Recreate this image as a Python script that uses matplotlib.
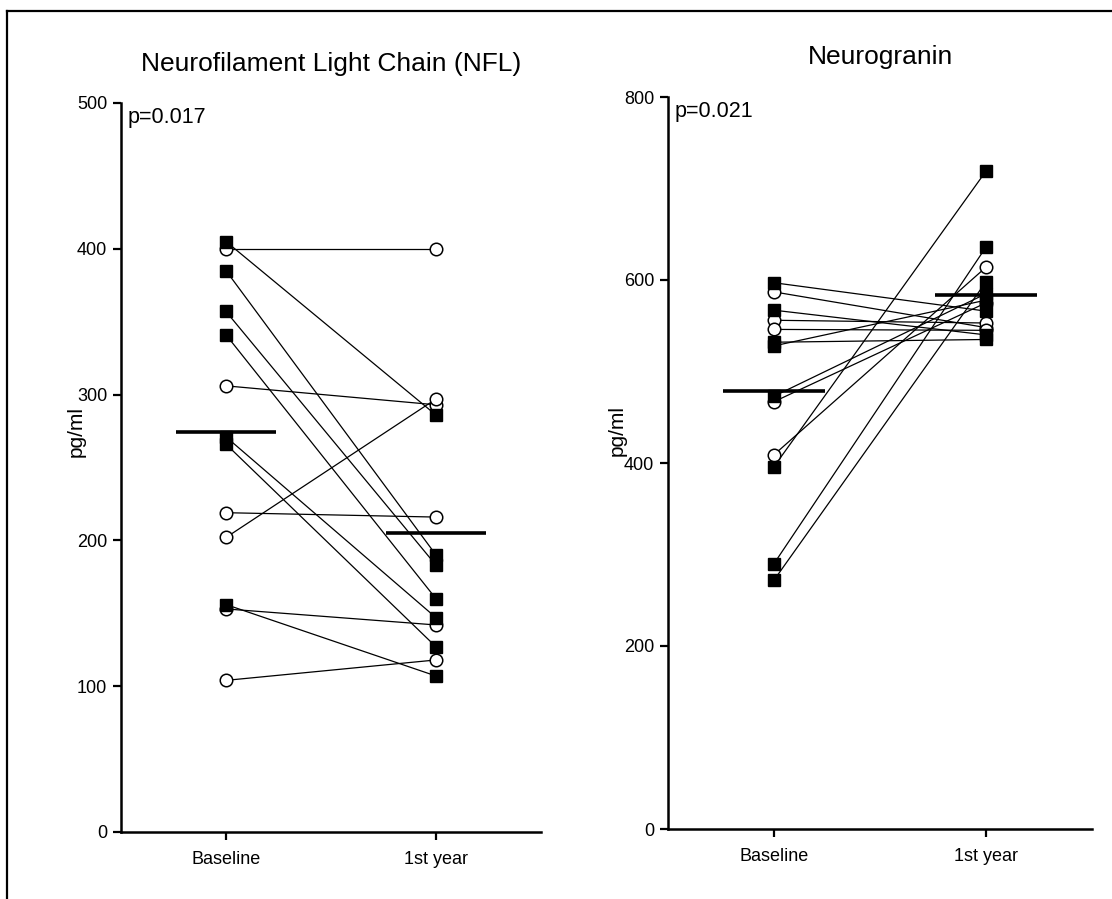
import matplotlib
matplotlib.use('Agg')
import matplotlib.pyplot as plt
from matplotlib.lines import Line2D
import numpy as np

# timepoints on the x axis
timepoints = ["Baseline", "1st year"]

# NFL, pg/ml -- paired subjects, squares and circles are the two groups
nfl_base_sq = [405, 385, 357, 341, 271, 266, 156]
nfl_year_sq = [286, 190, 183, 160, 147, 127, 107]
nfl_base_ci = [400, 306, 219, 202, 153, 104]
nfl_year_ci = [400, 293, 216, 297, 142, 118]

# Neurogranin, pg/ml
ng_base_sq = [597, 567, 532, 528, 473, 396, 290, 272]
ng_year_sq = [566, 540, 535, 578, 585, 719, 636, 598]
ng_base_ci = [587, 556, 546, 467, 409]
ng_year_ci = [548, 553, 545, 575, 614]

titles = ["Neurofilament Light Chain (NFL)", "Neurogranin"]
pvalues = ["p=0.017", "p=0.021"]
nfl_yticks = [0, 100, 200, 300, 400, 500]
ng_yticks = [0, 200, 400, 600, 800]

plt.rcParams['font.family'] = ['Liberation Sans', 'DejaVu Sans']

fig = plt.figure(figsize=(11.12, 8.99), dpi=100)

# frame lines at top and left of the picture
fig.add_artist(Line2D([7/1112, 7/1112], [0, 1 - 11/899], color='black', lw=1.6))
fig.add_artist(Line2D([7/1112, 1], [1 - 11/899, 1 - 11/899], color='black', lw=1.6))


def paired_panel(ax, base_sq, year_sq, base_ci, year_ci, yticks, title, ptxt,
                 label_xy, title_pad):
  x = [0, 1]
  # connecting lines
  for b, y in zip(base_ci, year_ci):
    ax.plot(x, [b, y], color='black', lw=0.9, zorder=2)
  for b, y in zip(base_sq, year_sq):
    ax.plot(x, [b, y], color='black', lw=0.9, zorder=2)
  # markers: circles below squares
  for i, vals in enumerate([base_ci, year_ci]):
    ax.plot([i]*len(vals), vals, linestyle='none', marker='o', ms=9,
            mfc='white', mec='black', mew=1.1, zorder=3)
  for i, vals in enumerate([base_sq, year_sq]):
    ax.plot([i]*len(vals), vals, linestyle='none', marker='s', ms=8.7,
            mfc='black', mec='black', zorder=4)
  # group means
  for i, vals in enumerate([base_sq + base_ci, year_sq + year_ci]):
    m = np.mean(vals)
    ax.plot([i - 0.24, i + 0.24], [m, m], color='black', lw=2.6,
            solid_capstyle='butt', zorder=5)

  ax.set_xlim(-0.5, 1.5)
  ax.set_ylim(yticks[0], yticks[-1])
  ax.set_yticks(yticks)
  ax.set_xticks(x)
  ax.set_xticklabels(timepoints)
  ax.set_ylabel("pg/ml", fontsize=15)
  ax.yaxis.set_label_coords(*label_xy)
  ax.set_title(title, fontsize=19, pad=title_pad)
  ax.text(0.015, 0.995, ptxt, transform=ax.transAxes, fontsize=15.5,
          ha='left', va='top')
  for s in ['top', 'right']:
    ax.spines[s].set_visible(False)
  for s in ['left', 'bottom']:
    ax.spines[s].set_linewidth(1.8)
  ax.tick_params(axis='both', direction='out', length=6, width=1.6,
                 labelsize=13, pad=4)
  ax.tick_params(axis='x', pad=8)


ax1 = fig.add_axes([121/1112, 1 - 832/899, 420/1112, 729/899])
paired_panel(ax1, nfl_base_sq, nfl_year_sq, nfl_base_ci, nfl_year_ci,
             nfl_yticks, titles[0], pvalues[0], (-0.083, 0.55), 23)

ax2 = fig.add_axes([668/1112, 1 - 829/899, 424/1112, 732/899])
paired_panel(ax2, ng_base_sq, ng_year_sq, ng_base_ci, ng_year_ci,
             ng_yticks, titles[1], pvalues[1], (-0.098, 0.545), 24)

fig.savefig("out.png", dpi=100)
